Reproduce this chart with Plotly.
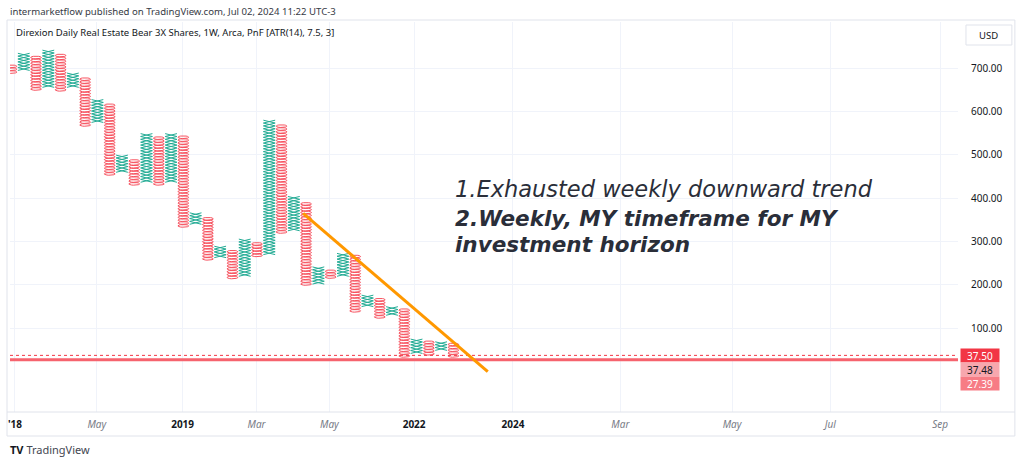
import numpy as np
import plotly.graph_objects as go

# ---------------- data ----------------
col_type = ["O", "X", "O", "X", "O", "X", "O", "X", "O", "X", "O", "X", "O",
            "X", "O", "X", "O", "X", "O", "X", "O", "X", "O", "X", "O", "X",
            "O", "X", "O", "X", "O", "X", "O", "X", "O", "X", "O"]
col_top = [711, 732, 725, 739, 732, 688, 679, 626, 619, 499, 492, 550, 545,
           550, 545, 365, 356, 287, 280, 303, 296, 580, 573, 402, 393, 243,
           236, 273, 266, 176, 169, 153, 146, 77, 72, 72, 63]
col_bottom = [688, 695, 649, 656, 647, 656, 566, 575, 453, 460, 430, 437, 430,
              437, 333, 340, 257, 263, 214, 220, 265, 270, 319, 325, 199, 202,
              215, 220, 137, 150, 123, 130, 33, 42, 38, 49, 33]
box_size = 6.6

time_tick_pos = [0.28, 6.95, 13.94, 19.96, 25.9, 32.8, 40.85, 49.6, 58.7, 66.7, 75.65]
time_tick_text = ["'18", "May", "2019", "Mar", "May", "2022", "2024", "Mar", "May", "Jul", "Sep"]
time_tick_is_year = [True, False, True, False, False, True, True, False, False, False, False]

price_ticks = [100, 200, 300, 400, 500, 600, 700]

last_price = 37.50
close_price = 37.48
hline_price = 27.39

trend_x = [23.76, 38.8]
trend_y = [365, 0]

note_lines = ["1.Exhausted weekly downward trend",
              "2.Weekly, MY timeframe for MY",
              "investment horizon"]

header_text = "intermarketflow published on TradingView.com, Jul 02, 2024 11:22 UTC-3"
title_text = "Direxion Daily Real Estate Bear 3X Shares, 1W, Arca, PnF [ATR(14), 7.5, 3]"

# ---------------- build marks ----------------
RED = "#F7525F"
GREEN = "#22AB94"

ox, oy, xx, xy = [], [], [], []
t = np.linspace(0, 2 * np.pi, 19)
for k, (kind, top, bot) in enumerate(zip(col_type, col_top, col_bottom)):
    n = max(1, int(round((top - bot) / box_size)))
    centers = bot + box_size * (np.arange(n) + 0.5)
    for c in centers:
        if kind == "O":
            ox.extend(list(k + 0.44 * np.cos(t)) + [None])
            oy.extend(list(c + 0.47 * box_size * np.sin(t)) + [None])
        else:
            y0, y1 = c - 0.5 * box_size, c + 0.5 * box_size
            xx.extend([k - 0.48, k + 0.48, None, k - 0.48, k + 0.48, None])
            xy.extend([y0, y1, None, y1, y0, None])

fig = go.Figure()
fig.add_trace(go.Scatter(x=xx, y=xy, mode="lines", line=dict(color=GREEN, width=1),
                         hoverinfo="skip", showlegend=False))
fig.add_trace(go.Scatter(x=ox, y=oy, mode="lines", line=dict(color=RED, width=1),
                         hoverinfo="skip", showlegend=False))

# ---------------- geometry helpers (pixel -> paper) ----------------
W, H = 1024, 463
ML, MR, MT, MB = 8, 66, 22, 51
PW, PH = W - ML - MR, H - MT - MB


def px(xp):
    return (xp - ML) / PW


def py(yp):
    return (H - MB - yp) / PH


ticktext = []
for txt, yr in zip(time_tick_text, time_tick_is_year):
    if yr:
        ticktext.append("<b>%s</b>" % txt)
    else:
        ticktext.append("<i><span style='color:#787B86'>%s</span></i>" % txt)

fig.update_layout(
    width=W, height=H,
    margin=dict(l=ML, r=MR, t=MT, b=MB, pad=0),
    paper_bgcolor="white", plot_bgcolor="white",
    font=dict(family="Noto Sans, DejaVu Sans, sans-serif", color="#131722", size=10),
    xaxis=dict(range=[-0.122, 77.11], tickvals=time_tick_pos, ticktext=ticktext,
               showgrid=True, gridcolor="#F0F3FA", gridwidth=1, zeroline=False,
               showline=False, ticks="", ticklabelstandoff=5,
               tickfont=dict(size=10, color="#131722"), fixedrange=True),
    yaxis=dict(range=[-93.2, 806.8], side="right", tickvals=price_ticks,
               tickformat=".2f", showgrid=True, gridcolor="#F0F3FA", gridwidth=1,
               zeroline=False, showline=False, ticks="", ticklabelstandoff=12,
               tickfont=dict(size=10, color="#131722"), fixedrange=True),
    hovermode=False,
)

shapes = []
# chart container and separators
shapes.append(dict(type="rect", xref="paper", yref="paper", x0=px(5), x1=px(1015),
                   y0=py(436), y1=py(20), line=dict(color="#E0E3EB", width=1),
                   fillcolor="rgba(0,0,0,0)", layer="below"))
shapes.append(dict(type="line", xref="paper", yref="paper", x0=px(5), x1=px(1015),
                   y0=0, y1=0, line=dict(color="#E0E3EB", width=1)))
# USD button
shapes.append(dict(type="rect", xref="paper", yref="paper", x0=px(966), x1=px(1012),
                   y0=py(45), y1=py(25), line=dict(color="#E0E3EB", width=1),
                   fillcolor="white"))
# price lines
shapes.append(dict(type="line", xref="paper", yref="y", x0=0, x1=1,
                   y0=hline_price, y1=hline_price,
                   line=dict(color="#F6636E", width=3)))
shapes.append(dict(type="line", xref="paper", yref="y", x0=0, x1=1,
                   y0=last_price, y1=last_price,
                   line=dict(color="#F23645", width=1, dash="dot")))
# trend line
shapes.append(dict(type="line", xref="x", yref="y", x0=trend_x[0], x1=trend_x[1],
                   y0=trend_y[0], y1=trend_y[1],
                   line=dict(color="#FF9800", width=3)))
fig.update_layout(shapes=shapes)

ann = []
ann.append(dict(xref="paper", yref="paper", x=px(6), y=py(11), xanchor="left",
                yanchor="middle", showarrow=False, text=header_text,
                font=dict(size=9.6, color="#363A45")))
ann.append(dict(xref="paper", yref="paper", x=px(12), y=py(32), xanchor="left",
                yanchor="middle", showarrow=False, text=title_text,
                font=dict(size=9.5, color="#131722")))
ann.append(dict(xref="paper", yref="paper", x=px(989), y=py(35), xanchor="center",
                yanchor="middle", showarrow=False, text="USD",
                font=dict(size=9.5, color="#131722")))
ann.append(dict(xref="paper", yref="paper", x=px(6), y=py(449), xanchor="left",
                yanchor="middle", showarrow=False,
                text="<b>TV</b> <span style='color:#434651'>TradingView</span>",
                font=dict(size=11, color="#131722")))

# price labels
ann.append(dict(xref="paper", yref="y", x=px(960), y=last_price, xanchor="left",
                yanchor="middle", showarrow=False, text="%.2f" % last_price,
                bgcolor="#F23645", width=38, height=13, borderpad=0,
                font=dict(size=10, color="white")))
ann.append(dict(xref="paper", yref="y", x=px(960), y=close_price, yshift=-14,
                xanchor="left", yanchor="middle", showarrow=False,
                text="%.2f" % close_price, bgcolor="#F7A7AE", width=38, height=13,
                borderpad=0, font=dict(size=10, color="#131722")))
ann.append(dict(xref="paper", yref="y", x=px(960), y=hline_price, yshift=-24,
                xanchor="left", yanchor="middle", showarrow=False,
                text="%.2f" % hline_price, bgcolor="#F77C85", width=38, height=13,
                borderpad=0, font=dict(size=10, color="white")))

# note text
note_y = [188.5, 218.5, 244]
note_w = ["normal", "bold", "bold"]
note_s = [22.5, 21.5, 21.5]
for line, yp, wgt, sz in zip(note_lines, note_y, note_w, note_s):
    ann.append(dict(xref="paper", yref="paper", x=px(452), y=py(yp), xanchor="left",
                    yanchor="middle", showarrow=False, text=line,
                    font=dict(family="DejaVu Sans, sans-serif", size=sz,
                              color="#2A2E39", style="italic", weight=wgt)))

fig.update_layout(annotations=ann)

fig.write_html("out.html", config={"displayModeBar": False},
               post_script="document.body.style.margin='0px';")
